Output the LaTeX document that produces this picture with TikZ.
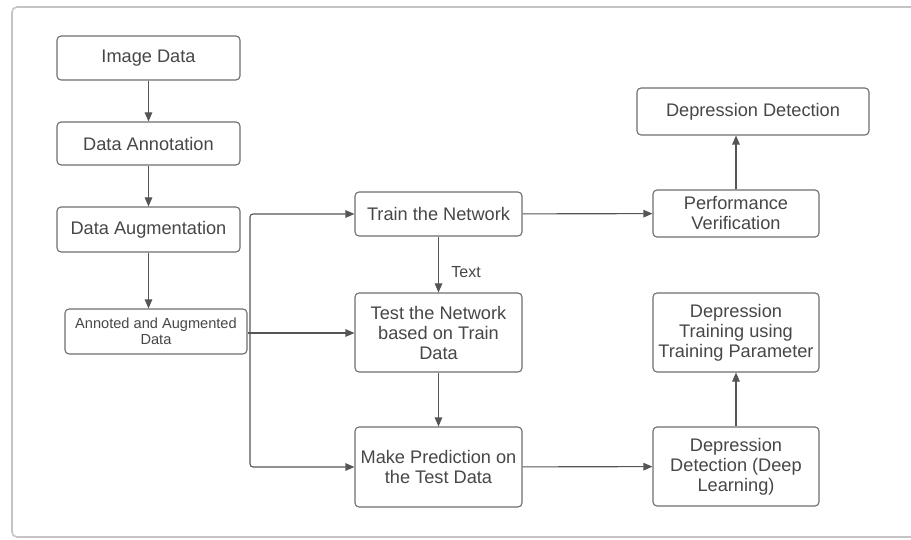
\documentclass[tikz,border=0pt]{standalone}
\usepackage{fontspec}
\setmainfont{Liberation Sans}
\usetikzlibrary{arrows.meta}
\definecolor{txt}{HTML}{474747}
\definecolor{edge}{HTML}{6E6E6E}
\definecolor{frame}{HTML}{C4C4C4}
\definecolor{wire}{HTML}{555555}
\tikzset{
  stepbox/.style={draw=edge, line width=1.1pt, rounded corners=4pt, fill=white,
    text=txt, align=center, inner sep=2pt,
    font=\fontsize{18.2}{20}\selectfont},
  arr/.style={draw=wire, line width=1.1pt, rounded corners=3pt,
    -{Triangle[length=9pt,width=7.5pt]}},
}
\begin{document}
\begin{tikzpicture}[x=1pt,y=-1pt]
\useasboundingbox (0,0) rectangle (911,540);
% outer frame, running off the right edge
\draw[frame, line width=1.6pt, rounded corners=5pt]
  (915,7) -- (12,7) -- (12,537) -- (915,537);

% left column
\node[stepbox, minimum width=183pt, minimum height=44pt] (img) at (148.5,58) {Image Data};
\node[stepbox, minimum width=183pt, minimum height=43pt] (ann) at (148.5,143.5) {Data Annotation};
\node[stepbox, minimum width=183pt, minimum height=45pt] (aug) at (148.5,229.5) {Data Augmentation};
\node[stepbox, minimum width=182pt, minimum height=45pt, font=\fontsize{14.6}{15.5}\selectfont] (aad) at (156,331.5) {Annoted and Augmented\\Data};

% middle column
\node[stepbox, minimum width=167pt, minimum height=44pt] (train) at (438.5,214) {Train the Network};
\node[stepbox, minimum width=167pt, minimum height=79pt] (test) at (438.5,332.5) {Test the Network\\based on Train\\Data};
\node[stepbox, minimum width=167pt, minimum height=80pt] (pred) at (438.5,467) {Make Prediction on\\the Test Data};

% right column
\node[stepbox, minimum width=232pt, minimum height=47pt] (det) at (753,111.5) {Depression Detection};
\node[stepbox, minimum width=166pt, minimum height=47pt] (perf) at (736,213.5) {Performance\\Verification};
\node[stepbox, minimum width=166pt, minimum height=79pt] (dtrain) at (736,332.5) {Depression\\Training using\\Training Parameter};
\node[stepbox, minimum width=166pt, minimum height=79pt] (deep) at (736,466.5) {Depression\\Detection (Deep\\Learning)};

% connectors
\draw[arr] (img) -- (ann);
\draw[arr] (ann) -- (aug);
\draw[arr] (aug.south -| img) -- (aad.north -| img);
\coordinate (bx) at (250,333);
\draw[arr] (aad.east |- bx) -- (test.west |- bx);
\draw[arr] (bx) |- (train.west);
\draw[arr] (bx) |- (pred.west);
\draw[arr] (train) -- node[right=9pt, text=txt, font=\fontsize{16}{18}\selectfont, pos=0.64] (lbl) {Text} (test);
\draw[arr] (test) -- (pred);
\draw[arr] (train) -- (perf);
\draw[arr] (perf) -- (perf |- det.south);
\draw[arr] (pred) -- (deep);
\draw[arr] (deep) -- (dtrain);
\end{tikzpicture}
\end{document}
